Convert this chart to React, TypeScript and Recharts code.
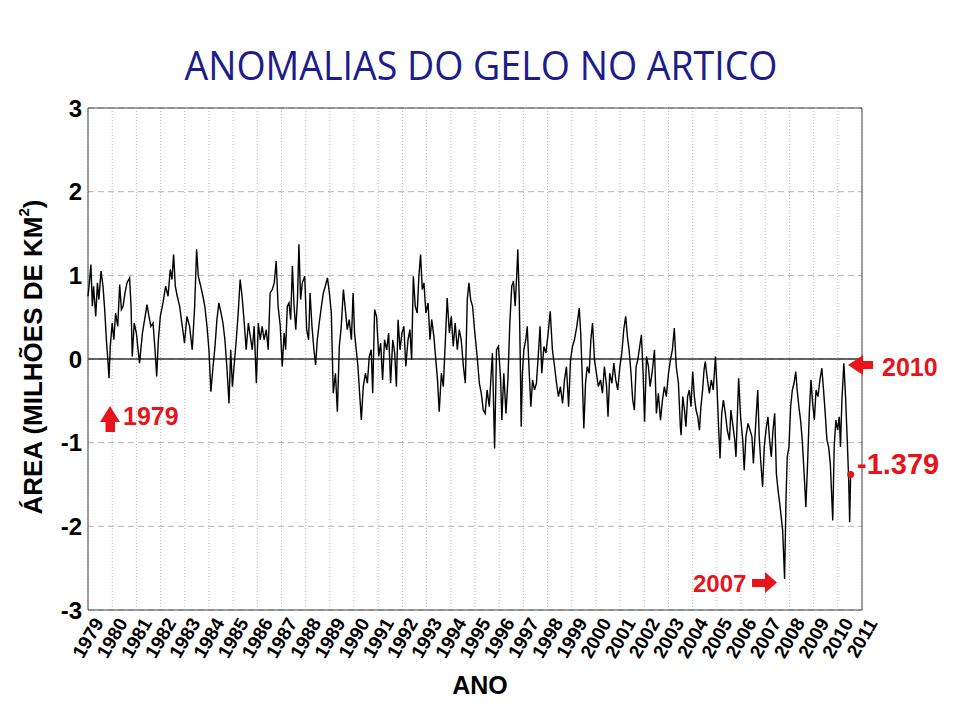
import {
  LineChart,
  Line,
  XAxis,
  YAxis,
  CartesianGrid,
  ReferenceLine,
  ReferenceDot,
} from "recharts";

// anomalia da área de gelo (milhões de km²): [ano decimal, valor]
const trecho1979a1987: [number, number][] = [
  [1979.0, 0.75], [1979.07, 0.95], [1979.12, 1.13], [1979.18, 0.63], [1979.23, 0.87], [1979.32, 0.51],
  [1979.39, 0.91], [1979.45, 0.71], [1979.54, 1.05], [1979.62, 0.87], [1979.69, 0.59], [1979.76, 0.23],
  [1979.81, 0.03], [1979.87, -0.23], [1979.92, 0.15], [1980.0, 0.43], [1980.07, 0.23], [1980.14, 0.55],
  [1980.23, 0.39], [1980.31, 0.89], [1980.38, 0.59], [1980.45, 0.63], [1980.53, 0.79], [1980.61, 0.91],
  [1980.72, 0.97], [1980.78, 0.63], [1980.83, 0.03], [1980.91, 0.43], [1981.0, 0.31], [1981.07, 0.11],
  [1981.13, -0.05], [1981.25, 0.31], [1981.34, 0.47], [1981.44, 0.65], [1981.52, 0.51], [1981.6, 0.39],
  [1981.69, 0.43], [1981.77, 0.11], [1981.84, -0.21], [1981.91, 0.23], [1981.99, 0.51], [1982.1, 0.67],
  [1982.21, 0.87], [1982.31, 0.75], [1982.4, 1.07], [1982.47, 0.95], [1982.54, 1.25], [1982.61, 0.87],
  [1982.69, 0.75], [1982.79, 0.63], [1982.88, 0.43], [1982.99, 0.19], [1983.09, 0.51], [1983.2, 0.39],
  [1983.31, 0.11], [1983.41, 0.63], [1983.49, 1.31], [1983.56, 0.99], [1983.66, 0.87], [1983.75, 0.75],
  [1983.83, 0.63], [1983.92, 0.39], [1984.0, 0.11], [1984.08, -0.39], [1984.17, -0.09], [1984.25, 0.15],
  [1984.33, 0.47], [1984.41, 0.67], [1984.5, 0.55], [1984.58, 0.43], [1984.66, 0.23], [1984.74, -0.09],
  [1984.83, -0.53], [1984.9, 0.11], [1984.97, -0.33], [1985.05, -0.05], [1985.13, 0.23], [1985.21, 0.55],
  [1985.29, 0.95], [1985.37, 0.75], [1985.46, 0.43], [1985.54, 0.11], [1985.63, 0.43], [1985.71, 0.27],
  [1985.79, 0.11], [1985.87, 0.39], [1985.96, -0.29], [1986.04, 0.43], [1986.12, 0.23], [1986.2, 0.39],
  [1986.28, 0.23], [1986.37, 0.35], [1986.45, 0.11], [1986.53, 0.79], [1986.62, 0.83], [1986.7, 0.91],
  [1986.78, 1.17], [1986.86, 0.63], [1986.95, 0.39], [1987.03, -0.09],
];

const trecho1987a1995: [number, number][] = [
  [1987.11, 0.31], [1987.17, 0.11], [1987.24, 0.63], [1987.31, 0.67], [1987.38, 0.47], [1987.45, 1.11],
  [1987.52, 0.63], [1987.59, 0.35], [1987.66, 0.71], [1987.72, 1.37], [1987.79, 0.71], [1987.86, 0.91],
  [1987.96, 0.99], [1988.04, 0.35], [1988.12, 0.23], [1988.18, 0.79], [1988.26, 0.39], [1988.34, 0.11],
  [1988.41, -0.07], [1988.48, 0.23], [1988.56, 0.43], [1988.65, 0.63], [1988.73, 0.79], [1988.81, 0.87],
  [1988.9, 0.97], [1988.98, 0.79], [1989.06, 0.55], [1989.14, -0.41], [1989.23, -0.17], [1989.31, -0.63],
  [1989.39, 0.15], [1989.47, 0.39], [1989.56, 0.83], [1989.64, 0.59], [1989.72, 0.35], [1989.8, 0.47],
  [1989.89, 0.23], [1989.96, 0.79], [1990.02, 0.31], [1990.09, 0.11], [1990.16, -0.09], [1990.23, -0.41],
  [1990.3, -0.73], [1990.38, -0.33], [1990.47, -0.17], [1990.55, -0.29], [1990.63, 0.03], [1990.71, 0.11],
  [1990.77, -0.41], [1990.85, 0.59], [1990.93, 0.51], [1991.02, 0.03], [1991.1, 0.19], [1991.18, -0.25],
  [1991.26, 0.23], [1991.35, 0.11], [1991.43, 0.31], [1991.51, -0.29], [1991.6, 0.23], [1991.68, 0.07],
  [1991.75, -0.33], [1991.82, 0.47], [1991.9, 0.11], [1991.98, 0.31], [1992.06, 0.39], [1992.14, -0.09],
  [1992.23, 0.23], [1992.31, 0.35], [1992.38, -0.01], [1992.45, 0.99], [1992.53, 0.63], [1992.61, 0.55],
  [1992.68, 0.99], [1992.75, 1.25], [1992.82, 0.83], [1992.89, 0.91], [1992.97, 0.55], [1993.06, 0.67],
  [1993.14, 0.23], [1993.21, 0.47], [1993.3, 0.27], [1993.38, -0.01], [1993.45, -0.25], [1993.52, -0.63],
  [1993.61, -0.17], [1993.69, -0.33], [1993.77, 0.19], [1993.85, 0.73], [1993.94, 0.31], [1994.02, 0.51],
  [1994.1, 0.15], [1994.18, 0.43], [1994.27, 0.11], [1994.35, 0.35], [1994.43, 0.23], [1994.52, -0.09],
  [1994.6, -0.29], [1994.68, 0.71], [1994.75, 0.91], [1994.82, 0.71], [1994.9, 0.63], [1994.98, 0.35],
  [1995.09, 0.03], [1995.18, -0.29],
];

const trecho1995a2003: [number, number][] = [
  [1995.26, -0.41], [1995.34, -0.61], [1995.42, -0.65], [1995.5, -0.37], [1995.59, -0.57], [1995.67, -0.17],
  [1995.72, 0.07], [1995.81, -1.07], [1995.89, 0.11], [1995.97, 0.15], [1996.06, -0.25], [1996.11, -0.73],
  [1996.19, -0.17], [1996.28, -0.65], [1996.36, -0.25], [1996.44, 0.43], [1996.52, 0.87], [1996.59, 0.93],
  [1996.66, 0.63], [1996.73, 1.03], [1996.77, 1.31], [1996.83, 0.71], [1996.87, 0.03], [1996.91, -0.81],
  [1996.96, -0.17], [1997.02, 0.11], [1997.1, 0.23], [1997.16, 0.39], [1997.23, -0.09], [1997.31, -0.57],
  [1997.38, -0.25], [1997.46, -0.37], [1997.54, -0.29], [1997.63, 0.11], [1997.69, 0.39], [1997.76, -0.17],
  [1997.85, 0.15], [1997.93, 0.07], [1998.01, 0.27], [1998.11, 0.57], [1998.2, 0.11], [1998.29, -0.09],
  [1998.37, -0.29], [1998.45, -0.45], [1998.53, -0.33], [1998.62, -0.53], [1998.7, -0.25], [1998.78, -0.09],
  [1998.87, -0.57], [1998.95, -0.01], [1999.03, 0.15], [1999.11, 0.23], [1999.21, 0.39], [1999.31, 0.61],
  [1999.37, 0.31], [1999.43, -0.17], [1999.5, -0.83], [1999.57, -0.29], [1999.64, -0.09], [1999.72, -0.17],
  [1999.79, 0.23], [1999.86, 0.43], [1999.94, -0.01], [2000.02, -0.17], [2000.1, -0.33], [2000.19, -0.25],
  [2000.27, -0.41], [2000.35, -0.09], [2000.44, -0.33], [2000.5, -0.69], [2000.57, -0.17], [2000.66, -0.29],
  [2000.74, -0.05], [2000.82, -0.25], [2000.9, -0.37], [2000.99, -0.09], [2001.07, 0.07], [2001.15, 0.35],
  [2001.23, 0.51], [2001.3, 0.27], [2001.37, 0.11], [2001.45, -0.17], [2001.52, -0.49], [2001.59, -0.61],
  [2001.66, -0.09], [2001.73, -0.01], [2001.81, 0.15], [2001.88, 0.29], [2001.95, -0.17], [2002.01, -0.75],
  [2002.09, 0.03], [2002.17, -0.09], [2002.24, -0.33], [2002.32, -0.17], [2002.42, 0.11], [2002.5, -0.65],
  [2002.58, -0.41], [2002.67, -0.73], [2002.75, -0.49], [2002.83, -0.33], [2002.91, -0.45], [2003.0, -0.17],
  [2003.08, -0.01], [2003.16, 0.11], [2003.24, 0.37], [2003.32, -0.09], [2003.41, -0.29],
];

const trecho2003a2010: [number, number][] = [
  [2003.49, -0.81], [2003.52, -0.91], [2003.59, -0.45], [2003.66, -0.61], [2003.72, -0.81], [2003.79, -0.45],
  [2003.86, -0.37], [2003.93, -0.57], [2004.0, -0.15], [2004.07, -0.45], [2004.14, -0.61], [2004.21, -0.69],
  [2004.28, -0.85], [2004.34, -0.57], [2004.41, -0.37], [2004.47, -0.13], [2004.52, -0.03], [2004.61, -0.25],
  [2004.69, -0.41], [2004.77, -0.25], [2004.85, -0.37], [2004.94, 0.03], [2005.01, -0.37], [2005.07, -0.81],
  [2005.13, -1.19], [2005.2, -0.65], [2005.27, -0.49], [2005.35, -0.65], [2005.43, -0.85], [2005.52, -0.97],
  [2005.58, -0.61], [2005.65, -0.77], [2005.74, -0.97], [2005.79, -1.17], [2005.9, -0.23], [2005.98, -0.69],
  [2006.07, -0.97], [2006.13, -1.33], [2006.2, -0.93], [2006.29, -0.77], [2006.37, -0.85], [2006.45, -0.93],
  [2006.51, -1.25], [2006.59, -0.85], [2006.69, -0.37], [2006.75, -0.93], [2006.81, -1.21], [2006.89, -1.53],
  [2006.96, -1.05], [2007.03, -0.85], [2007.11, -0.69], [2007.18, -0.97], [2007.25, -1.17], [2007.32, -0.85],
  [2007.39, -0.65], [2007.46, -1.37], [2007.53, -1.57], [2007.6, -1.73], [2007.66, -1.89], [2007.72, -2.05],
  [2007.8, -2.63], [2007.86, -1.65], [2007.91, -1.17], [2007.98, -1.05], [2008.05, -0.57], [2008.12, -0.37],
  [2008.19, -0.29], [2008.26, -0.15], [2008.32, -0.37], [2008.39, -0.57], [2008.46, -0.73], [2008.53, -0.97],
  [2008.6, -1.33], [2008.68, -1.77], [2008.75, -1.25], [2008.82, -0.65], [2008.89, -0.25], [2008.96, -0.53],
  [2009.03, -0.73], [2009.1, -0.37], [2009.18, -0.45], [2009.26, -0.25], [2009.34, -0.11], [2009.41, -0.37],
  [2009.48, -0.65], [2009.55, -0.97], [2009.62, -1.05], [2009.69, -1.25], [2009.79, -1.93], [2009.85, -1.05],
  [2009.92, -0.73], [2009.99, -0.85], [2010.06, -0.69], [2010.11, -1.05], [2010.17, -0.49], [2010.25, -0.05],
  [2010.32, -0.45], [2010.39, -0.97], [2010.45, -1.45], [2010.49, -1.95], [2010.53, -1.379],
];

const anos = [
  1979, 1980, 1981, 1982, 1983, 1984, 1985, 1986, 1987, 1988, 1989, 1990, 1991, 1992, 1993, 1994, 1995,
  1996, 1997, 1998, 1999, 2000, 2001, 2002, 2003, 2004, 2005, 2006, 2007, 2008, 2009, 2010, 2011,
];
const ticksArea = [-3, -2, -1, 0, 1, 2, 3];
const ticksMeio = [-2.5, -1.5, -0.5, 0.5, 1.5, 2.5];

const dados = [...trecho1979a1987, ...trecho1987a1995, ...trecho1995a2003, ...trecho2003a2010].map(
  ([ano, anomalia]) => ({ ano, anomalia })
);
const ultimo = dados[dados.length - 1];

const VERMELHO = "#e8141c";
const FONTE = "'Liberation Sans', Arial, sans-serif";

const AnoTick = ({ x, y, payload }: any) => {
  const cy = y + 28;
  return (
    <text
      x={x}
      y={cy}
      transform={`rotate(-60, ${x}, ${cy})`}
      textAnchor="middle"
      dominantBaseline="central"
      fontFamily={FONTE}
      fontWeight="bold"
      fontSize={19}
      fill="#000"
    >
      {payload.value}
    </text>
  );
};

export default function App() {
  return (
    <div style={{ position: "relative", width: 943, height: 702, background: "#fff" }}>
      <LineChart
        width={943}
        height={702}
        data={dados}
        margin={{ top: 100, right: 89, left: 20, bottom: 40 }}
      >
        <CartesianGrid vertical={false} strokeDasharray="6 4" stroke="#b4b4b4" />
        <CartesianGrid horizontal={false} strokeDasharray="1 2" stroke="#bcbcbc" />
        <XAxis
          dataKey="ano"
          type="number"
          domain={[1979, 2011]}
          ticks={anos}
          interval={0}
          axisLine={false}
          tickLine={false}
          tickSize={0}
          tickMargin={0}
          height={60}
          tick={<AnoTick />}
        />
        <YAxis
          type="number"
          domain={[-3, 3]}
          ticks={ticksArea}
          interval={0}
          width={60}
          axisLine={false}
          tickLine={false}
          tickSize={0}
          tickMargin={6}
          tick={{ fontSize: 24, fontWeight: "bold", fill: "#000", fontFamily: FONTE }}
        />
        <YAxis
          yAxisId="meioEsq"
          orientation="left"
          mirror
          type="number"
          domain={[-3, 3]}
          ticks={ticksMeio}
          width={0}
          axisLine={false}
          tick={false}
          tickSize={8}
          tickLine={{ stroke: "#444" }}
        />
        <YAxis
          yAxisId="meioDir"
          orientation="right"
          mirror
          type="number"
          domain={[-3, 3]}
          ticks={ticksMeio}
          width={0}
          axisLine={false}
          tick={false}
          tickSize={8}
          tickLine={{ stroke: "#444" }}
        />
        <ReferenceLine y={0} stroke="#333" strokeWidth={1.5} />
        <ReferenceLine y={3} stroke="#444" />
        <ReferenceLine y={-3} stroke="#444" />
        <ReferenceLine x={1979} stroke="#444" />
        <ReferenceLine x={2011} stroke="#444" />
        <Line
          type="linear"
          dataKey="anomalia"
          stroke="#000"
          strokeWidth={1.4}
          dot={false}
          isAnimationActive={false}
        />
        <ReferenceDot x={ultimo.ano} y={ultimo.anomalia} r={3.5} fill={VERMELHO} stroke="none" />
      </LineChart>

      <svg
        width={943}
        height={702}
        style={{ position: "absolute", left: 0, top: 0, pointerEvents: "none" }}
      >
        <text
          x={473}
          y={72}
          textAnchor="middle"
          fontFamily="'Open Sans', sans-serif"
          fontSize={40}
          fill="#1c1c8a"
          textLength={593}
          lengthAdjust="spacingAndGlyphs"
        >
          ANOMALIAS DO GELO NO ARTICO
        </text>
        <text
          x={25}
          y={349}
          transform="rotate(-90, 25, 349)"
          textAnchor="middle"
          dominantBaseline="central"
          fontFamily={FONTE}
          fontWeight="bold"
          fontSize={26}
          fill="#000"
        >
          ÁREA (MILHÕES DE KM
          <tspan fontSize={15} dy={-10}>2</tspan>
          <tspan dy={10}>)</tspan>
        </text>
        <text x={472} y={686} textAnchor="middle" fontFamily={FONTE} fontWeight="bold" fontSize={25} fill="#000">
          ANO
        </text>

        {/* setas das anotações */}
        <path d="M102 398 L112 414 L107 414 L107 424 L97.5 424 L97.5 414 L92 414 Z" fill={VERMELHO} />
        <text x={115} y={417} fontFamily={FONTE} fontWeight="bold" fontSize={25} fill={VERMELHO}>
          1979
        </text>

        <path d="M840 357 L855 347 L855 353 L865 353 L865 361 L855 361 L855 367 Z" fill={VERMELHO} />
        <text x={874} y={368} fontFamily={FONTE} fontWeight="bold" fontSize={25} fill={VERMELHO}>
          2010
        </text>

        <text x={685} y={584} fontFamily={FONTE} fontWeight="bold" fontSize={24} fill={VERMELHO}>
          2007
        </text>
        <path d="M769 574.5 L757 564 L757 571 L744 571 L744 579 L757 579 L757 585 Z" fill={VERMELHO} />

        <text x={849} y={466} fontFamily={FONTE} fontWeight="bold" fontSize={29} fill={VERMELHO}>
          -1.379
        </text>
      </svg>
    </div>
  );
}
